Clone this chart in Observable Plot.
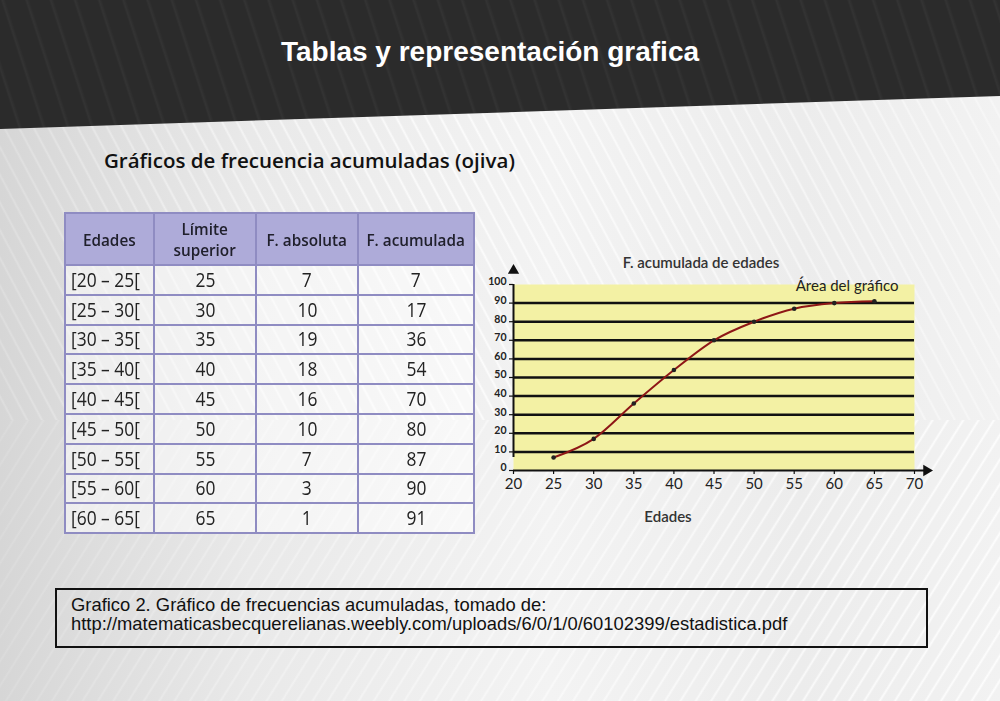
<!DOCTYPE html>
<html>
<head>
<meta charset="utf-8">
<script src="https://cdn.jsdelivr.net/npm/d3@7"></script>
<script src="https://cdn.jsdelivr.net/npm/@observablehq/plot@0.6"></script>
<style>
  html, body { margin:0; padding:0; }
  body {
    width:1000px; height:701px; position:relative; overflow:hidden;
    background: linear-gradient(90deg, #d6d6d6 0%, #e9e9e9 25%, #f3f3f3 55%, #ececec 80%, #f2f2f2 100%);
  }
  #stripesTop {
    position:absolute; left:0; top:0; width:1000px; height:420px;
    background: repeating-linear-gradient(62deg, rgba(255,255,255,0) 0px, rgba(255,255,255,0) 9px, rgba(255,255,255,0.8) 11px, rgba(255,255,255,0) 13px);
    -webkit-mask-image: linear-gradient(90deg, rgba(0,0,0,0.25) 0%, rgba(0,0,0,1) 45%, rgba(0,0,0,0.5) 100%);
  }
  #stripesBottom {
    position:absolute; left:0; top:420px; width:1000px; height:281px;
    background: repeating-linear-gradient(-58deg, rgba(255,255,255,0) 0px, rgba(255,255,255,0) 9px, rgba(255,255,255,0.85) 11px, rgba(255,255,255,0) 13px);
    -webkit-mask-image: linear-gradient(90deg, rgba(0,0,0,0.15) 0%, rgba(0,0,0,0.6) 50%, rgba(0,0,0,1) 100%);
  }
  #header {
    position:absolute; left:0; top:0; width:1000px; height:132px;
    background:
      repeating-linear-gradient(72deg, rgba(255,255,255,0) 0px, rgba(255,255,255,0) 18px, rgba(255,255,255,0.04) 20px, rgba(255,255,255,0) 23px),
      #2b2b2b;
    clip-path: polygon(0 0, 100% 0, 100% 96px, 0 129px);
  }
  #title {
    position:absolute; left:0; width:980px; top:36px; text-align:center;
    color:#fff; font-family:"Liberation Sans",Arial,sans-serif;
    font-weight:bold; font-size:28px;
  }
  #subtitle {
    position:absolute; left:104px; top:146px; font-family:"Open Sans",sans-serif;
    font-size:20.5px; font-weight:600; color:#111;
  }
  table {
    position:absolute; left:64px; top:212px; border-collapse:collapse; table-layout:fixed; width:409px;
    font-family:"Open Sans",sans-serif; color:#222;
  }
  th, td { border:2px solid #8f8cc2; text-align:center; padding:0; white-space:nowrap; overflow:visible; }
  th { background:#aeabd9; font-weight:600; font-size:17px; height:50px; line-height:21px; color:#20202c; }
  th .sq { transform:scaleX(0.9); }
  td { background:rgba(255,255,255,0.5); font-size:20px; font-weight:500; height:27.8px; line-height:24px; }
  .sq { display:inline-block; transform:scaleX(0.87); transform-origin:center; }
  td.first { text-align:left; padding-left:5px; }
  td.first .sq { transform-origin:left center; }
  #chart { position:absolute; left:480px; top:240px; }
  #caption {
    position:absolute; left:55px; top:588px; width:873px; height:60px; border:2px solid #111;
    font-family:"Liberation Sans",Arial,sans-serif; font-size:18.4px; color:#111;
    padding:0 0 0 14px; box-sizing:border-box; line-height:19px;
  }
  #caption div { white-space:nowrap; }
</style>
</head>
<body>
<div id="stripesTop"></div>
<div id="stripesBottom"></div>
<div id="header"></div>
<div id="title">Tablas y representación grafica</div>
<div id="subtitle">Gráficos de frecuencia acumuladas (ojiva)</div>
<div id="tablewrap"></div>
<div id="chart"></div>
<div id="caption"><div style="margin-top:5px">Grafico 2. Gráfico de frecuencias acumuladas, tomado de:</div><div>http://matematicasbecquerelianas.weebly.com/uploads/6/0/1/0/60102399/estadistica.pdf</div></div>
<script>
// ---- data ----
const encabezados = ["Edades", "Límite<br>superior", "F. absoluta", "F. acumulada"];
const intervalos = ["[20 – 25[", "[25 – 30[", "[30 – 35[", "[35 – 40[", "[40 – 45[", "[45 – 50[", "[50 – 55[", "[55 – 60[", "[60 – 65["];
const limiteSuperior = [25, 30, 35, 40, 45, 50, 55, 60, 65];
const fAbsoluta = [7, 10, 19, 18, 16, 10, 7, 3, 1];
const fAcumulada = [7, 17, 36, 54, 70, 80, 87, 90, 91];
const xTicks = [20, 25, 30, 35, 40, 45, 50, 55, 60, 65, 70];
const yTicks = [0, 10, 20, 30, 40, 50, 60, 70, 80, 90, 100];
const gridLines = [10, 20, 30, 40, 50, 60, 70, 80, 90];
const chartTitle = "F. acumulada de edades";
const areaLabel = "Área del gráfico";
const xLabel = "Edades";

// ---- table ----
const colW = [89, 102, 102, 116];
const sq = s => `<span class="sq">${s}</span>`;
let html = "<table><colgroup>" + colW.map(w => `<col style="width:${w}px">`).join("") + "</colgroup><tr>" +
  encabezados.map(h => `<th>${sq(h)}</th>`).join("") + "</tr>";
intervalos.forEach((iv, i) => {
  html += `<tr><td class="first">${sq(iv)}</td><td>${sq(limiteSuperior[i])}</td><td>${sq(fAbsoluta[i])}</td><td>${sq(fAcumulada[i])}</td></tr>`;
});
html += "</table>";
document.getElementById("tablewrap").innerHTML = html;

// ---- chart ----
const data = limiteSuperior.map((x, i) => ({x, y: fAcumulada[i]}));
const xDomain = [xTicks[0], xTicks[xTicks.length - 1]];
const yDomain = [yTicks[0], yTicks[yTicks.length - 1]];
const font = "Lato, 'Open Sans', sans-serif";

const chart = Plot.plot({
  width: 460, height: 290,
  marginLeft: 33, marginRight: 26, marginTop: 44, marginBottom: 60,
  x: {domain: xDomain},
  y: {domain: yDomain},
  style: {background: "transparent", fontFamily: font, color: "#222", overflow: "visible"},
  marks: [
    Plot.frame({fill: "#f3f1a4", stroke: null}),
    Plot.ruleY(gridLines, {stroke: "#111", strokeWidth: 2.5}),
    Plot.ruleX([xDomain[0]], {y1: yDomain[0], y2: yDomain[1], stroke: "#111", strokeWidth: 2, insetTop: -13}),
    Plot.ruleY([yDomain[0]], {x1: xDomain[0], x2: xDomain[1], stroke: "#111", strokeWidth: 2, insetRight: -11}),
    Plot.dot([xDomain[0]], {x: d => d, y: yDomain[1], symbol: "triangle", r: 4.2, fill: "#111", stroke: null, dy: -14}),
    Plot.dot([yDomain[0]], {x: xDomain[1], y: d => d, symbol: "triangle", r: 4.2, fill: "#111", stroke: null, dx: 12, rotate: 90}),
    // tick marks
    Plot.ruleY(yTicks, {x1: xDomain[0], x2: xDomain[0], insetLeft: -4, stroke: "#111", strokeWidth: 1.2}),
    Plot.ruleX(xTicks, {y1: yDomain[0], y2: yDomain[0], insetBottom: -4, stroke: "#111", strokeWidth: 1.2}),
    // tick labels
    Plot.axisY({ticks: yTicks, tickSize: 0, tickPadding: 7, fontSize: 10.5, fontWeight: "bold", label: null, dy: -2.5}),
    Plot.axisX({ticks: xTicks, tickSize: 0, tickPadding: 7.5, fontSize: 15, label: null}),
    Plot.line(data, {x: "x", y: "y", curve: "monotone-x", stroke: "#8e1616", strokeWidth: 2}),
    Plot.dot(data, {x: "x", y: "y", r: 2.3, fill: "#222", stroke: null}),
    Plot.text([chartTitle], {frameAnchor: "top", dx: -13, dy: -27, fontSize: 15, fontWeight: 600, fill: "#333", text: d => d}),
    Plot.text([areaLabel], {frameAnchor: "top-right", textAnchor: "end", dx: -16, dy: -4, fontSize: 15, fill: "#222", text: d => d}),
    Plot.text([xLabel], {frameAnchor: "bottom", dx: -46, dy: 51, fontSize: 15, fontWeight: 600, fill: "#333", text: d => d})
  ]
});
document.getElementById("chart").appendChild(chart);
</script>
</body>
</html>
